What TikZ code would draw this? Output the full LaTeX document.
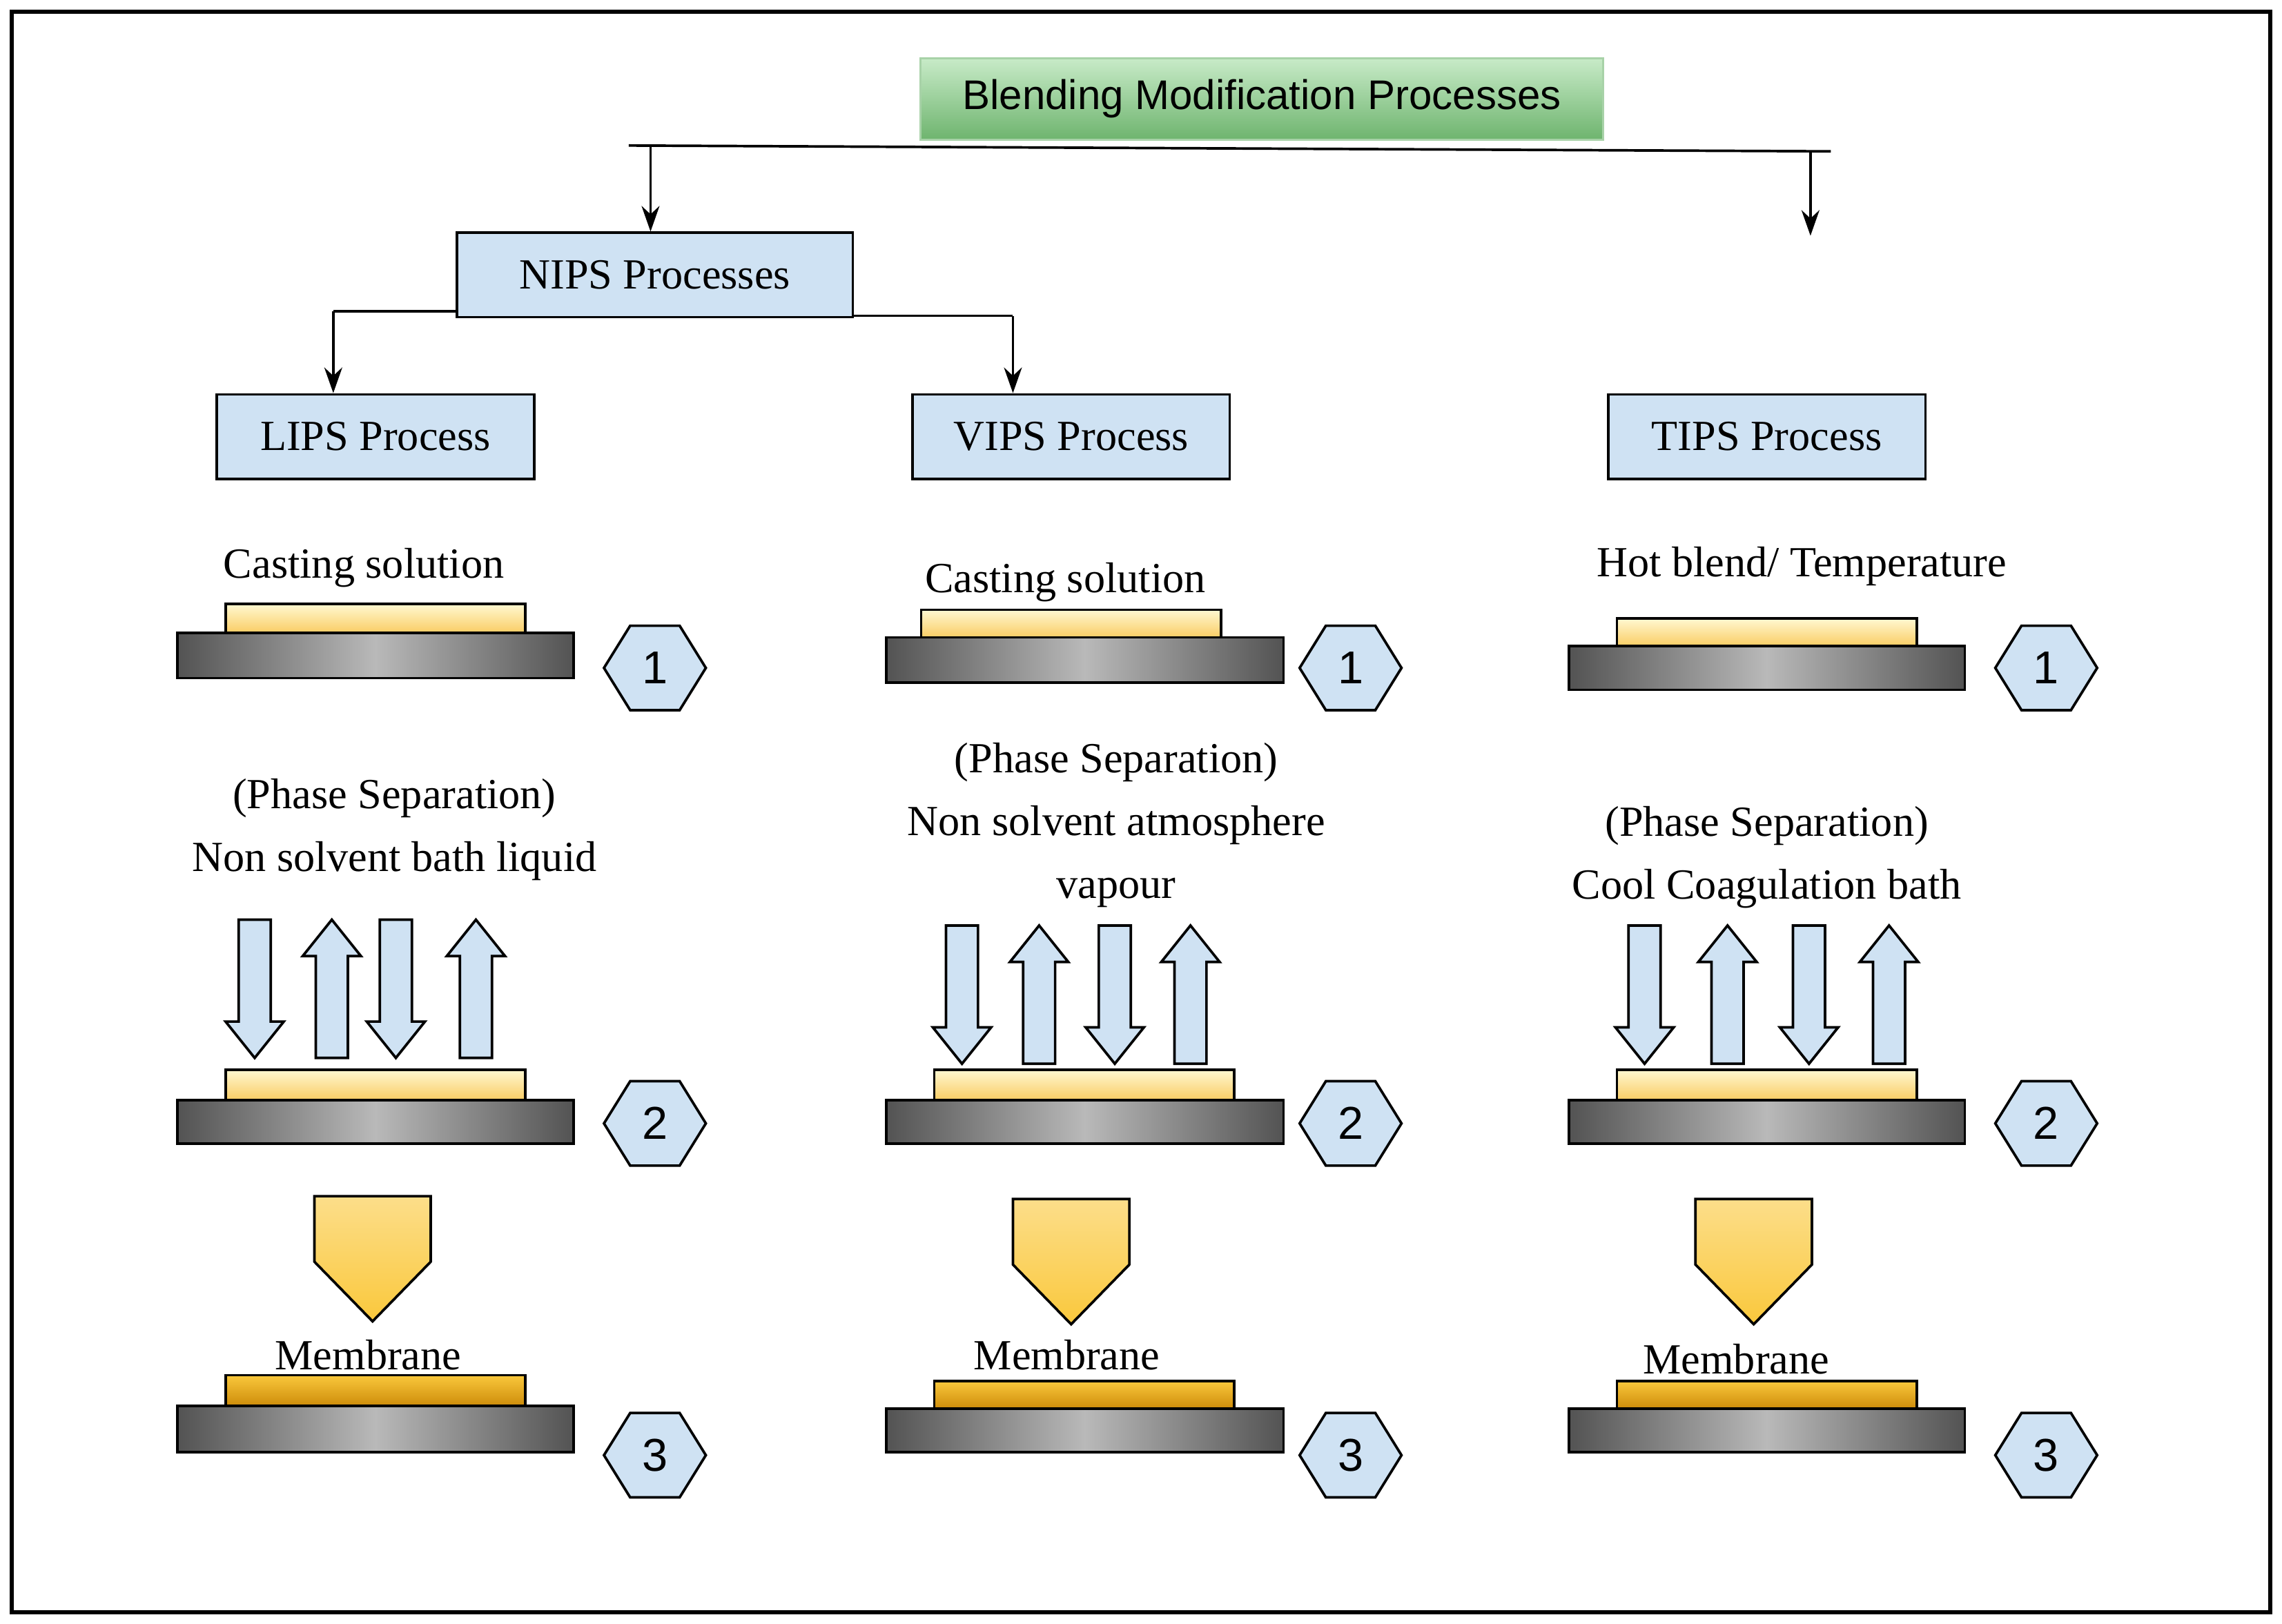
\documentclass[tikz,border=0pt]{standalone}
\usepackage{fontspec}
\setmainfont{Liberation Serif}
\newfontfamily\sansf{Liberation Sans}
\usetikzlibrary{arrows.meta}
\definecolor{boxblue}{RGB}{207,226,243}
\definecolor{filmtop}{RGB}{255,248,210}
\definecolor{filmbot}{RGB}{250,205,100}
\definecolor{memtop}{RGB}{250,200,60}
\definecolor{membot}{RGB}{205,140,10}
\definecolor{greentop}{RGB}{200,235,200}
\definecolor{greenbot}{RGB}{110,180,110}
\tikzset{
  x=0.1mm,y=-0.1mm,
  every node/.style={font=\fontsize{8.4}{10}\selectfont},
  hbox/.style={draw,fill=boxblue,line width=0.5pt,minimum width=21.8mm,minimum height=5.8mm,inner sep=0pt},
  plate/.style={draw,line width=0.5pt,left color=gray!65!black,right color=gray!65!black,middle color=gray!55},
  film/.style={draw,line width=0.5pt,top color=filmtop,bottom color=filmbot},
  mem/.style={draw,line width=0.5pt,top color=memtop,bottom color=membot},
  conn/.style={line width=0.5pt},
  arr/.style={line width=0.5pt,-{Stealth[length=5pt,width=3.5pt]}},
  blk/.style={draw,fill=boxblue,line width=0.5pt},
  pics/hex/.style={code={\draw[blk] (-35,0)--(-17,-29)--(17,-29)--(35,0)--(17,29)--(-17,29)--cycle;
     \node[font=\sansf\fontsize{9}{10}\selectfont] at (0,0) {#1};}},
  pics/dn/.style={code={\draw[blk] (-11,0)--(11,0)--(11,70)--(20,70)--(0,95)--(-20,70)--(-11,70)--cycle;}},
  pics/up/.style={code={\draw[blk] (-11,95)--(11,95)--(11,25)--(20,25)--(0,0)--(-20,25)--(-11,25)--cycle;}},
  pics/penta/.style={code={\draw[line width=0.5pt,top color=memtop!60,bottom color=memtop] (-40,0)--(40,0)--(40,45)--(0,86)--(-40,45)--cycle;}}
}
\begin{document}
\begin{tikzpicture}
\useasboundingbox (0,0) rectangle (1568,1116);
\draw[line width=0.8pt] (8,8) rectangle (1560,1108);
% title
\node[draw=greenbot!60,top color=greentop,bottom color=greenbot,minimum width=46.9mm,minimum height=5.6mm,inner sep=0pt,font=\sansf\fontsize{8.1}{10}\selectfont] (title) at (867,68) {Blending Modification Processes};
\coordinate (tl) at (432,100);
\coordinate (tr) at (1258,104);
\draw[conn] (tl) -- (tr);
\node[hbox,minimum width=27.2mm] (nips) at (450,189) {NIPS Processes};
\coordinate (n1) at (447,100.3);
\coordinate (t1) at (1244,103.9);
\draw[arr] (n1) -- (nips.north -| n1);
\draw[arr] (t1) -- (1244,162);
\node[hbox] (lips) at (258,300) {LIPS Process};
\node[hbox] (vips) at (736,300) {VIPS Process};
\node[hbox] (tips) at (1214,300) {TIPS Process};
\coordinate (la) at (229,214);
\coordinate (ra) at (696,217);
\draw[conn] (nips.west |- la) -- (la);
\draw[arr] (la) -- (lips.north -| la);
\draw[conn] (nips.east |- ra) -- (ra);
\draw[arr] (ra) -- (vips.north -| ra);
% step 1
\node (c1) at (250,390) {Casting solution};
\node (c2) at (732,400) {Casting solution};
\node (c3) at (1238,389) {Hot blend/ Temperature};
\draw[film] (155,415) rectangle (361,435); \draw[plate] (122,435) rectangle (394,466);
\draw[film] (633,419) rectangle (839,438); \draw[plate] (609,438) rectangle (882,469);
\draw[film] (1111,425) rectangle (1317,444); \draw[plate] (1078,444) rectangle (1350,474);
\pic at (450,459) {hex=1}; \pic at (928,459) {hex=1}; \pic at (1406,459) {hex=1};
% step 2 labels
\node[align=center,font=\fontsize{8.4}{12.3}\selectfont] (p1) at (271,570) {(Phase Separation)\\Non solvent bath liquid};
\node[align=center,font=\fontsize{8.4}{12.3}\selectfont] (p2) at (767,567) {(Phase Separation)\\Non solvent atmosphere\\vapour};
\node[align=center,font=\fontsize{8.4}{12.3}\selectfont] (p3) at (1214,589) {(Phase Separation)\\Cool Coagulation bath};
% block arrows
\pic at (175,632) {dn}; \pic at (228,632) {up}; \pic at (272,632) {dn}; \pic at (327,632) {up};
\pic at (661,636) {dn}; \pic at (714,636) {up}; \pic at (766,636) {dn}; \pic at (818,636) {up};
\pic at (1130,636) {dn}; \pic at (1187,636) {up}; \pic at (1243,636) {dn}; \pic at (1298,636) {up};
\draw[film] (155,735) rectangle (361,756); \draw[plate] (122,756) rectangle (394,786);
\draw[film] (642,735) rectangle (848,756); \draw[plate] (609,756) rectangle (882,786);
\draw[film] (1111,735) rectangle (1317,756); \draw[plate] (1078,756) rectangle (1350,786);
\pic at (450,772) {hex=2}; \pic at (928,772) {hex=2}; \pic at (1406,772) {hex=2};
% step 3
\pic at (256,822) {penta}; \pic at (736,824) {penta}; \pic at (1205,824) {penta};
\node (m1) at (253,931) {Membrane};
\node (m2) at (733,931) {Membrane};
\node (m3) at (1193,934) {Membrane};
\draw[mem] (155,945) rectangle (361,966); \draw[plate] (122,966) rectangle (394,998);
\draw[mem] (642,949) rectangle (848,968); \draw[plate] (609,968) rectangle (882,998);
\draw[mem] (1111,949) rectangle (1317,968); \draw[plate] (1078,968) rectangle (1350,998);
\pic at (450,1000) {hex=3}; \pic at (928,1000) {hex=3}; \pic at (1406,1000) {hex=3};
\end{tikzpicture}
\end{document}
